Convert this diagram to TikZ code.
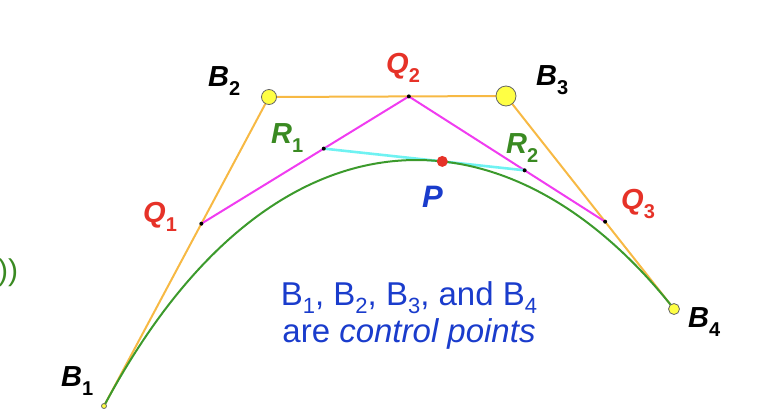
\documentclass[tikz,border=0pt]{standalone}
\usepackage{fontspec}
\setmainfont{Liberation Sans}
\usetikzlibrary{calc}
\definecolor{orangeln}{HTML}{F7B944}
\definecolor{magln}{HTML}{F03CF0}
\definecolor{cyanln}{HTML}{6FF2F2}
\definecolor{greenln}{HTML}{3C9A2C}
\definecolor{redlbl}{HTML}{E63228}
\definecolor{greenlbl}{HTML}{3A8A22}
\definecolor{bluelbl}{HTML}{1A3CCC}
\definecolor{yellowpt}{HTML}{FFFF44}
\newcommand{\mylbl}[2]{\bfseries\itshape #1\raisebox{-9pt}{\fontsize{20}{20}\selectfont\upshape #2}}
\newcommand{\bsub}[1]{\raisebox{-8pt}{\fontsize{22}{22}\selectfont #1}}
\begin{document}
\begin{tikzpicture}[x=1pt,y=-1pt,
  lbl/.style={inner sep=0pt,anchor=base west,font=\fontsize{29}{29}\selectfont},
  ctrl/.style={circle,fill=yellowpt,draw=black!60,line width=0.8pt,inner sep=0pt},
  blk/.style={circle,fill=black,inner sep=0pt,minimum size=4pt},
  oln/.style={orangeln,line width=2pt},
  mln/.style={magln,line width=2pt},
  cln/.style={cyanln,line width=2.6pt},
  gln/.style={greenln,line width=2pt}]
\useasboundingbox (0,0) rectangle (762,418);
\coordinate (B1) at (104,406);
\coordinate (B2) at (269,97);
\coordinate (B3) at (506,96);
\coordinate (B4) at (674,309);
\coordinate (Q1) at ($(B1)!0.59!(B2)$);
\coordinate (Q2) at ($(B2)!0.59!(B3)$);
\coordinate (Q3) at ($(B3)!0.59!(B4)$);
\coordinate (R1) at ($(Q1)!0.59!(Q2)$);
\coordinate (R2) at ($(Q2)!0.59!(Q3)$);
\coordinate (P) at ($(R1)!0.59!(R2)$);
% polygons
\draw[oln] (B1) -- (B2) -- (B3) -- (B4);
\draw[mln] (Q1) -- (Q2) -- (Q3);
\draw[cln] (R1) -- (R2);
\draw[gln] (B1) .. controls (B2) and (B3) .. (B4);
% points
\node[ctrl,minimum size=5pt] (b1) at (B1) {};
\node[ctrl,minimum size=15pt] (b2) at (B2) {};
\node[ctrl,minimum size=20pt] (b3) at (B3) {};
\node[ctrl,minimum size=11pt] (b4) at (B4) {};
\node[blk] (q1) at (Q1) {};
\node[blk] (q2) at (Q2) {};
\node[blk] (q3) at (Q3) {};
\node[blk] (r1) at (R1) {};
\node[blk] (r2) at (R2) {};
\node[circle,fill=redlbl,inner sep=0pt,minimum size=11pt] (p) at (P) {};
% labels
\node[lbl] (lb1) at (61,386) {\mylbl{B}{1}};
\node[lbl] (lb2) at (208,86) {\mylbl{B}{2}};
\node[lbl] (lb3) at (536,85) {\mylbl{B}{3}};
\node[lbl] (lb4) at (688,327) {\mylbl{B}{4}};
\node[lbl,text=redlbl] (lq1) at (143,222) {\mylbl{Q}{1}};
\node[lbl,text=redlbl] (lq2) at (386,73) {\mylbl{Q}{2}};
\node[lbl,text=redlbl] (lq3) at (621,209) {\mylbl{Q}{3}};
\node[lbl,text=greenlbl] (lr1) at (271,143) {\mylbl{R}{1}};
\node[lbl,text=greenlbl] (lr2) at (506,153) {\mylbl{R}{2}};
\node[lbl,text=bluelbl,font=\fontsize{31}{31}\selectfont] (lp) at (422,207) {\bfseries\itshape P};
\node[lbl,text=greenlbl,font=\fontsize{30}{30}\selectfont] (par) at (-2,280) {))};
% caption
\node[inner sep=0pt,text=bluelbl,font=\fontsize{33}{37}\selectfont,align=center] (cap) at (409,315)
  {B\bsub{1}, B\bsub{2}, B\bsub{3}, and B\bsub{4}\\ are \textit{control points}};
\end{tikzpicture}
\end{document}
